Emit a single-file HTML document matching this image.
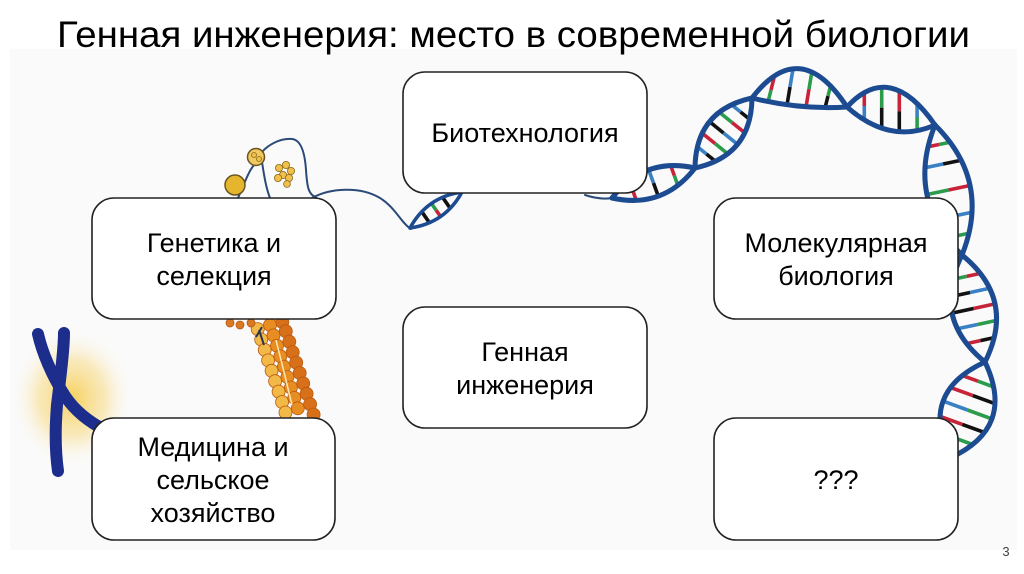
<!DOCTYPE html>
<html>
<head>
<meta charset="utf-8">
<style>
  html,body{margin:0;padding:0;background:#fff;}
  svg{display:block;}
  .t{font-family:"Liberation Sans","DejaVu Sans",Arial,sans-serif;fill:#000;}
  .box{fill:#fff;stroke:#222;stroke-width:1.6;}
  .st{fill:none;stroke:#1c4b92;stroke-width:5;stroke-linecap:round;}
  .r{stroke-width:3.6;stroke-linecap:butt;}
  .red{stroke:#c7243a;} .grn{stroke:#2a9c4c;} .blk{stroke:#111;} .blu{stroke:#3a80c4;}
</style>
</head>
<body>
<svg width="1024" height="574" viewBox="0 0 1024 574" xmlns="http://www.w3.org/2000/svg">
  <defs>
    <radialGradient id="glow" cx="50%" cy="50%" r="50%">
      <stop offset="0%" stop-color="#f6cf55" stop-opacity="0.95"/>
      <stop offset="55%" stop-color="#f8dc8a" stop-opacity="0.55"/>
      <stop offset="100%" stop-color="#fafafa" stop-opacity="0"/>
    </radialGradient>
  </defs>
  <rect x="0" y="0" width="1024" height="574" fill="#fff"/>
  <rect x="10" y="49" width="1007" height="501" fill="#fafafa"/>

  <!-- Title -->
  <text class="t" x="57" y="47" font-size="37" textLength="913" lengthAdjust="spacingAndGlyphs">Генная инженерия: место в современной биологии</text>

  <!-- Chromosome with glow -->
  <ellipse cx="72" cy="398" rx="62" ry="70" fill="url(#glow)"/>
  <path d="M38,334 C42,352 52,376 65,396 C75,411 88,421 106,431" fill="none" stroke="#1c2d8c" stroke-width="12" stroke-linecap="round"/>
  <path d="M64,333 C64,352 60,380 57,405 C55,430 55,450 58,471" fill="none" stroke="#1c2d8c" stroke-width="12" stroke-linecap="round"/>

  <!-- Orange chromatin beads -->
  <g stroke="#b85a10" stroke-width="0.8">
    <g fill="#f2b848">
      <circle cx="257.7" cy="329.1" r="6.5"/><circle cx="261.2" cy="339.5" r="6.5"/><circle cx="264.7" cy="349.9" r="6.5"/>
      <circle cx="268.1" cy="360.4" r="6.5"/><circle cx="271.6" cy="370.8" r="6.5"/><circle cx="275.1" cy="381.2" r="6.5"/>
      <circle cx="278.6" cy="391.6" r="6.5"/><circle cx="282.1" cy="402" r="6.5"/><circle cx="285.5" cy="412.5" r="6.5"/>
    </g>
    <g fill="#e88d22">
      <circle cx="270" cy="325" r="6.5"/><circle cx="273.5" cy="335.4" r="6.5"/><circle cx="277" cy="345.8" r="6.5"/>
      <circle cx="280.4" cy="356.3" r="6.5"/><circle cx="283.9" cy="366.7" r="6.5"/><circle cx="287.4" cy="377.1" r="6.5"/>
      <circle cx="290.9" cy="387.5" r="6.5"/><circle cx="294.3" cy="397.9" r="6.5"/><circle cx="297.8" cy="408.3" r="6.5"/>
    </g>
    <g fill="#d8701a">
      <circle cx="282.3" cy="322" r="6.5"/><circle cx="285.8" cy="331.3" r="6.5"/><circle cx="289.3" cy="341.7" r="6.5"/>
      <circle cx="292.7" cy="352.2" r="6.5"/><circle cx="296.2" cy="362.6" r="6.5"/><circle cx="299.7" cy="373" r="6.5"/>
      <circle cx="303.2" cy="383.4" r="6.5"/><circle cx="306.6" cy="393.8" r="6.5"/><circle cx="310.1" cy="404.2" r="6.5"/>
      <circle cx="313.6" cy="414.6" r="6.5"/>
    </g>
    <g fill="#d97a22">
      <circle cx="230" cy="323" r="4"/><circle cx="240" cy="325" r="4"/><circle cx="251" cy="323" r="4"/>
    </g>
  </g>
  <path d="M259,330 L264,345 M262,327 L256,337" stroke="#2a3550" stroke-width="2" fill="none"/>
  <path d="M276,340 L284,372 L292,405" stroke="#fbe9b0" stroke-width="1.5" fill="none"/>

  <!-- Small yellow particles and curly wire -->
  <g fill="none" stroke="#2c4a78" stroke-width="2" stroke-linecap="round">
    <path d="M238,198 C244,185 248,172 254,165"/>
    <path d="M262,152 C268,145 280,138 292,139 C302,140 305,155 306,170 C307,185 308,195 316,197"/>
    <path d="M262,162 C264,175 266,188 270,198"/>
    <path d="M312,198 C330,188 360,186 380,198 C395,207 402,224 411,229"/>
    <path d="M585,195 Q600,200 612,198"/>
  </g>
  <circle cx="235" cy="185" r="10" fill="#e6b52e" stroke="#6a5420" stroke-width="1.5"/>
  <circle cx="256" cy="157" r="8.5" fill="#f0c860" stroke="#6a5420" stroke-width="1.5"/>
  <g fill="#f0c04a" stroke="#8a6a20" stroke-width="0.8">
    <circle cx="254" cy="155" r="2.5"/><circle cx="259" cy="159" r="2.5"/>
    <circle cx="279" cy="168" r="3.6"/><circle cx="286" cy="165" r="3.6"/><circle cx="291" cy="171" r="3.6"/>
    <circle cx="283" cy="175" r="3.6"/><circle cx="289" cy="178" r="3.6"/><circle cx="278" cy="178" r="3.6"/>
    <circle cx="287" cy="184" r="3.4"/>
  </g>

  <!-- Small helix near wire -->
  <g>
    <line class="r blk" x1="429.4" y1="222.7" x2="421.8" y2="211.7"/>
    <line class="r red" x1="440.6" y1="216.6" x2="436" y2="210"/>
    <line class="r grn" x1="436" y1="210" x2="431.4" y2="203.4"/>
    <line class="r blk" x1="450.2" y1="208.3" x2="442.6" y2="197.3"/>
    <path class="st" style="stroke-width:3.5" d="M410,228 Q445.1,223.1 462,192"/>
    <path class="st" style="stroke-width:3.5" d="M410,228 Q426.9,196.9 462,192"/>
  </g>

  <!-- Main DNA helix: rungs -->
  <g>
    <!-- L1 -->
    <line class="r red" x1="636.3" y1="200.4" x2="632.8" y2="190.5"/><line class="r grn" x1="632.8" y1="190.5" x2="629.2" y2="180.6"/>
    <line class="r blk" x1="658.3" y1="196.2" x2="653.5" y2="183"/><line class="r blu" x1="653.5" y1="183" x2="648.7" y2="169.8"/>
    <line class="r grn" x1="677.8" y1="185.4" x2="674.3" y2="175.5"/><line class="r red" x1="674.3" y1="175.5" x2="670.7" y2="165.6"/>
    <!-- L2 -->
    <line class="r blk" x1="715.3" y1="161.2" x2="706.4" y2="154"/><line class="r blu" x1="706.4" y1="154" x2="697.5" y2="146.8"/>
    <line class="r grn" x1="727.7" y1="153.8" x2="715" y2="143.5"/><line class="r red" x1="715" y1="143.5" x2="702.2" y2="133.2"/>
    <line class="r blu" x1="737.5" y1="144.3" x2="723.5" y2="133"/><line class="r blk" x1="723.5" y1="133" x2="709.6" y2="121.7"/>
    <line class="r red" x1="744.8" y1="132.8" x2="732" y2="122.5"/><line class="r grn" x1="732" y1="122.5" x2="719.3" y2="112.2"/>
    <line class="r blk" x1="749.5" y1="119.2" x2="740.6" y2="112"/><line class="r blu" x1="740.6" y1="112" x2="731.7" y2="104.8"/>
    <!-- L3 -->
    <line class="r grn" x1="768" y1="102" x2="771" y2="90"/><line class="r red" x1="771" y1="90" x2="774" y2="78"/>
    <line class="r blk" x1="787" y1="105" x2="790" y2="87"/><line class="r blu" x1="790" y1="87" x2="793" y2="69"/>
    <line class="r red" x1="806" y1="107" x2="809" y2="89"/><line class="r grn" x1="809" y1="89" x2="812" y2="71"/>
    <line class="r blk" x1="825" y1="108" x2="828" y2="96"/><line class="r grn" x1="828" y1="96" x2="831" y2="84"/>
    <!-- L4 -->
    <line class="r red" x1="864.3" y1="92.7" x2="864.3" y2="106"/><line class="r blu" x1="864.3" y1="106" x2="864.3" y2="119.9"/>
    <line class="r grn" x1="881.7" y1="87.3" x2="881.7" y2="107.7"/><line class="r blk" x1="881.7" y1="107.7" x2="881.7" y2="128.1"/>
    <line class="r red" x1="899.3" y1="90.9" x2="899.3" y2="111.3"/><line class="r blk" x1="899.3" y1="111.3" x2="899.3" y2="131.7"/>
    <line class="r blu" x1="917.1" y1="103.5" x2="917.1" y2="117"/><line class="r grn" x1="917.1" y1="117" x2="917.1" y2="130.7"/>
    <!-- L5 -->
    <line class="r grn" x1="950" y1="142.2" x2="939" y2="144.5"/><line class="r red" x1="939" y1="144.5" x2="928" y2="146.8"/>
    <line class="r blk" x1="961.2" y1="160.2" x2="943.1" y2="164"/><line class="r blu" x1="943.1" y1="164" x2="925" y2="167.8"/>
    <line class="r red" x1="970" y1="185.5" x2="948.5" y2="190"/><line class="r grn" x1="948.5" y1="190" x2="927" y2="194.5"/>
    <line class="r blu" x1="972" y1="212.2" x2="953.9" y2="216"/><line class="r blk" x1="953.9" y1="216" x2="935.8" y2="219.8"/>
    <line class="r grn" x1="969" y1="233.2" x2="958" y2="235.5"/><line class="r red" x1="958" y1="235.5" x2="947" y2="237.8"/>
    <!-- L6 -->
    <line class="r red" x1="980.4" y1="273.4" x2="966.6" y2="276.4"/><line class="r grn" x1="966.6" y1="276.4" x2="952.8" y2="279.4"/>
    <line class="r blu" x1="989.6" y1="288.3" x2="970" y2="292.5"/><line class="r blk" x1="970" y1="292.5" x2="950.4" y2="296.7"/>
    <line class="r red" x1="995" y1="303.9" x2="973.5" y2="308.5"/><line class="r blk" x1="973.5" y1="308.5" x2="952" y2="313.1"/>
    <line class="r grn" x1="996.6" y1="320.4" x2="977" y2="324.6"/><line class="r blu" x1="977" y1="324.6" x2="957.4" y2="328.8"/>
    <line class="r blk" x1="994.2" y1="337.6" x2="980.4" y2="340.6"/><line class="r red" x1="980.4" y1="340.6" x2="966.6" y2="343.6"/>
    <!-- L7 -->
    <line class="r grn" x1="993.6" y1="386.9" x2="978" y2="381.2"/><line class="r red" x1="978" y1="381.2" x2="962.4" y2="375.5"/>
    <line class="r blk" x1="995" y1="403.7" x2="972.8" y2="395.6"/><line class="r red" x1="972.8" y1="395.6" x2="950.5" y2="387.5"/>
    <line class="r grn" x1="991.9" y1="418.9" x2="967.5" y2="410"/><line class="r blu" x1="967.5" y1="410" x2="943.1" y2="401.1"/>
    <line class="r blk" x1="984.5" y1="432.5" x2="962.3" y2="424.4"/><line class="r red" x1="962.3" y1="424.4" x2="940" y2="416.3"/>
    <line class="r grn" x1="972.6" y1="444.5" x2="957" y2="438.8"/><line class="r blk" x1="957" y1="438.8" x2="941.4" y2="433.1"/>
  </g>
  <!-- Main DNA helix: strands -->
  <g>
    <path class="st" d="M612,198 Q663,209.3 695,168"/>
    <path class="st" d="M612,198 Q644,156.7 695,168"/>
    <path class="st" d="M695,168 Q751.4,155.7 752,98"/>
    <path class="st" d="M695,168 Q695.6,110.3 752,98"/>
    <path class="st" d="M752,98 Q800,35 847,107"/>
    <path class="st" d="M752,98 Q800,110 847,107"/>
    <path class="st" d="M847,107 Q890,60 935,125"/>
    <path class="st" d="M847,107 Q890,145 935,125"/>
    <path class="st" d="M935,125 Q991.6,181.1 962,255"/>
    <path class="st" d="M935,125 Q905.4,198.9 962,255"/>
    <path class="st" d="M962,255 Q1016.5,299.3 985,362"/>
    <path class="st" d="M962,255 Q930.5,317.7 985,362"/>
    <path class="st" d="M985,362 Q1016.3,427.8 950,458"/>
    <path class="st" d="M985,362 Q918.7,392.2 950,458"/>
  </g>

  <!-- Boxes -->
  <rect class="box" x="403" y="72" width="244" height="121" rx="22"/>
  <rect class="box" x="92" y="198" width="244" height="121" rx="22"/>
  <rect class="box" x="714" y="198" width="244" height="121" rx="22"/>
  <rect class="box" x="403" y="307" width="244" height="121" rx="22"/>
  <rect class="box" x="92" y="418" width="243" height="122" rx="22"/>
  <rect class="box" x="714" y="418" width="244" height="122" rx="22"/>

  <!-- Box labels -->
  <g class="t" font-size="27" text-anchor="middle">
    <text x="525" y="142">Биотехнология</text>
    <text x="214" y="252">Генетика и</text>
    <text x="214" y="285">селекция</text>
    <text x="836" y="252">Молекулярная</text>
    <text x="836" y="285">биология</text>
    <text x="525" y="361">Генная</text>
    <text x="525" y="394">инженерия</text>
    <text x="213" y="456">Медицина и</text>
    <text x="213" y="489">сельское</text>
    <text x="213" y="522">хозяйство</text>
    <text x="836" y="489">???</text>
  </g>

  <!-- Page number -->
  <text class="t" x="1006" y="556" font-size="13" text-anchor="middle" style="fill:#444">3</text>
</svg>
</body>
</html>
